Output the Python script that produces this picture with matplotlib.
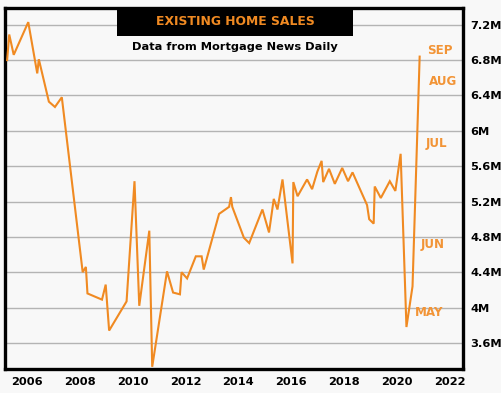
import matplotlib
matplotlib.use('Agg')
import matplotlib.pyplot as plt
from matplotlib.patches import Rectangle
import numpy as np

# existing home sales, annualized (millions)
dates = [
    2005.25, 2005.33, 2005.50, 2006.05, 2006.39, 2006.45, 2006.83, 2007.06,
    2007.32, 2008.11, 2008.23, 2008.29, 2008.84, 2008.98, 2009.11, 2009.77,
    2010.07, 2010.25, 2010.63, 2010.74, 2011.30, 2011.53, 2011.79, 2011.85,
    2012.06, 2012.39, 2012.61, 2012.69, 2013.27, 2013.65, 2013.72, 2013.77,
    2014.21, 2014.41, 2014.91, 2015.16, 2015.34, 2015.48, 2015.67, 2016.05,
    2016.08, 2016.24, 2016.60, 2016.79, 2016.99, 2017.15, 2017.21, 2017.43,
    2017.65, 2017.93, 2018.15, 2018.32, 2018.87, 2018.95, 2019.12, 2019.16,
    2019.39, 2019.73, 2019.94, 2020.14, 2020.36, 2020.59, 2020.86,
]
sales = [
    6.80, 7.09, 6.86, 7.23, 6.65, 6.81, 6.33, 6.27,
    6.38, 4.40, 4.46, 4.16, 4.09, 4.26, 3.74, 4.07,
    5.43, 4.02, 4.87, 3.33, 4.41, 4.17, 4.15, 4.40,
    4.33, 4.58, 4.58, 4.43, 5.06, 5.14, 5.25, 5.14,
    4.79, 4.73, 5.11, 4.85, 5.23, 5.11, 5.45, 4.50,
    5.42, 5.26, 5.45, 5.34, 5.54, 5.66, 5.42, 5.57,
    5.40, 5.58, 5.43, 5.53, 5.16, 5.00, 4.95, 5.37,
    5.24, 5.43, 5.32, 5.74, 3.78, 4.24, 6.84,
]

month_labels = ['SEP', 'AUG', 'JUL', 'JUN', 'MAY']
month_x = [2021.62, 2021.73, 2021.51, 2021.36, 2021.20]
month_y = [6.906, 6.555, 5.853, 4.71, 3.94]

y_ticks = [3.6, 4.0, 4.4, 4.8, 5.2, 5.6, 6.0, 6.4, 6.8, 7.2]
x_ticks = list(range(2006, 2023, 2))

ORANGE = '#f08a22'
LABEL_ORANGE = '#f29436'
BG = '#f8f8f8'
FONT = ['DejaVu Sans']


def fmt_m(v):
    s = ('%.1f' % v).rstrip('0').rstrip('.')
    return s + 'M'


fig = plt.figure(figsize=(5.02, 3.93), dpi=100, facecolor=BG)
ax = fig.add_axes([5 / 502, 24 / 393, 458 / 502, 361 / 393])
ax.set_facecolor(BG)

ax.plot(dates, sales, color=ORANGE, linewidth=1.5, solid_joinstyle='miter', zorder=3)

ax.set_xlim(2005.17, 2022.5)
ax.set_ylim(3.305, 7.39)

ax.set_yticks(y_ticks)
ax.set_yticklabels([fmt_m(v) for v in y_ticks])
ax.set_xticks(x_ticks)
ax.set_xticklabels([str(x) for x in x_ticks])
ax.yaxis.tick_right()
ax.tick_params(axis='both', length=0, labelsize=8.2, colors='black')
ax.tick_params(axis='y', pad=5)
ax.tick_params(axis='x', pad=6)
for lab in ax.get_xticklabels() + ax.get_yticklabels():
    lab.set_fontfamily(FONT)
    lab.set_fontweight('bold')

ax.grid(axis='y', color='#b4b4b4', linewidth=1.0)
ax.set_axisbelow(True)
for sp in ax.spines.values():
    sp.set_linewidth(2.4)
    sp.set_color('black')

# title box
ax.add_patch(Rectangle((0.2445, 0.9224), 0.5155, 0.0776, transform=ax.transAxes,
                       facecolor='black', edgecolor='none', zorder=5, clip_on=False))
ax.text(0.502, 0.9626, 'EXISTING HOME SALES', transform=ax.transAxes,
        ha='center', va='center', color=ORANGE, fontsize=8.9,
        fontweight='bold', family=FONT, zorder=6)
ax.text(0.502, 0.892, 'Data from Mortgage News Daily', transform=ax.transAxes,
        ha='center', va='center', color='black', fontsize=8.2,
        fontweight='bold', family=FONT, zorder=6)

for lab, x, y in zip(month_labels, month_x, month_y):
    ax.text(x, y, lab, ha='center', va='center', color=LABEL_ORANGE,
            fontsize=8.6, fontweight='bold', family=FONT, zorder=4)

fig.savefig('out.png', dpi=100, facecolor=BG)
